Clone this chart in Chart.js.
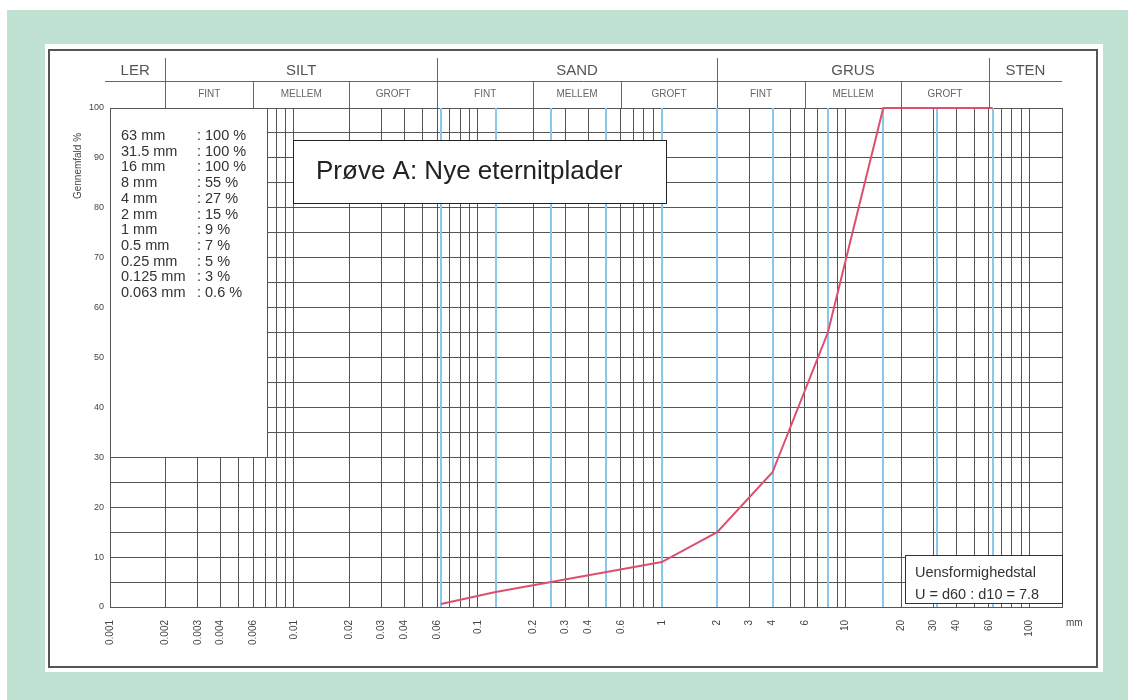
<!DOCTYPE html>
<html>
<head>
<meta charset="utf-8">
<title>Sigteanalyse</title>
<script src="https://cdn.jsdelivr.net/npm/chart.js@4"></script>
<style>
  html, body { margin: 0; padding: 0; background: #fff; }
  #wrap { width: 1128px; height: 700px; }
</style>
</head>
<body>
<div id="wrap"><canvas id="sieveChart" width="1128" height="700"></canvas></div>
<script>
/** sigtestørrelser (mm) og gennemfald (%) */
const sieveMm = [0.063, 0.125, 0.25, 0.5, 1, 2, 4, 8, 16, 31.5, 63];
const passingPct = [0.6, 3, 5, 7, 9, 15, 27, 55, 100, 100, 100];

/** tekst i boksen til venstre */
const boxSizes = ["63 mm", "31.5 mm", "16 mm", "8 mm", "4 mm", "2 mm", "1 mm", "0.5 mm", "0.25 mm", "0.125 mm", "0.063 mm"];
const boxPct = [": 100 %", ": 100 %", ": 100 %", ": 55 %", ": 27 %", ": 15 %", ": 9 %", ": 7 %", ": 5 %", ": 3 %", ": 0.6 %"];

/** akser */
const xTickLabels = [0.001, 0.002, 0.003, 0.004, 0.006, 0.01, 0.02, 0.03, 0.04, 0.06, 0.1, 0.2, 0.3, 0.4, 0.6, 1, 2, 3, 4, 6, 10, 20, 30, 40, 60, 100];
const yTickLabels = [0, 10, 20, 30, 40, 50, 60, 70, 80, 90, 100];
const xMin = 0.001, xMax = 150;

/** fraktioner i hovedet */
const mainNames = ["LER", "SILT", "SAND", "GRUS", "STEN"];
const mainBounds = [0.001, 0.002, 0.06, 2, 60, 150];
const subNames = ["FINT", "MELLEM", "GROFT"];
const subBounds = [[0.002, 0.006, 0.02, 0.06], [0.06, 0.2, 0.6, 2], [2, 6, 20, 60]];

const titleText = "Prøve A: Nye eternitplader";
const uLines = ["Uensformighedstal", "U = d60 : d10 = 7.8"];

// gitterlinjer: 1..9 i hver dekade
const gridMm = [];
[0.001, 0.01, 0.1, 1, 10].forEach(d => {
    for (let m = 1; m <= 9; m++) gridMm.push(parseFloat((m * d).toPrecision(2)));
});
gridMm.push(100, xMax);

const FONT = "Liberation Sans, Arial, sans-serif";

/**
 * baggrund, blå sigtelinjer, bokse og hoved
 */
const paperPlugin = {
    id: 'paper',
    beforeDraw(chart) {
        const ctx = chart.ctx;
        ctx.save();
        ctx.fillStyle = '#fff';
        ctx.fillRect(0, 0, 1128, 700);
        ctx.fillStyle = '#c0e2d2';
        ctx.fillRect(7, 10, 1121, 690);
        ctx.fillStyle = '#fff';
        ctx.fillRect(45, 44, 1058, 628);
        ctx.strokeStyle = '#555';
        ctx.lineWidth = 2;
        ctx.strokeRect(49, 50, 1048, 617);
        ctx.restore();
    },
    beforeDatasetsDraw(chart) {
        const ctx = chart.ctx, xs = chart.scales.x, a = chart.chartArea;
        ctx.save();
        ctx.strokeStyle = '#8cc6ea';
        ctx.lineWidth = 2;
        sieveMm.forEach(v => {
            const px = Math.round(xs.getPixelForValue(v));
            ctx.beginPath();
            ctx.moveTo(px, a.top);
            ctx.lineTo(px, a.bottom);
            ctx.stroke();
        });
        ctx.restore();
    },
    afterDatasetsDraw(chart) {
        const ctx = chart.ctx, xs = chart.scales.x, ys = chart.scales.y, a = chart.chartArea;
        ctx.save();

        // boks til venstre
        const bx = a.left, by = a.top;
        const bw = Math.round(xs.getPixelForValue(0.007)) + 2 - bx;
        const bh = Math.round(ys.getPixelForValue(30)) - by;
        ctx.fillStyle = '#fff';
        ctx.fillRect(bx, by, bw, bh);
        ctx.strokeStyle = '#555';
        ctx.lineWidth = 1;
        ctx.strokeRect(bx + 0.5, by + 0.5, bw, bh);
        ctx.fillStyle = '#333';
        ctx.font = '14.5px ' + FONT;
        ctx.textBaseline = 'middle';
        ctx.textAlign = 'left';
        boxSizes.forEach((s, i) => {
            ctx.fillText(s, bx + 11, by + 28 + i * 15.7);
            ctx.fillText(boxPct[i], bx + 87, by + 28 + i * 15.7);
        });

        // titelboks
        ctx.fillStyle = '#fff';
        ctx.fillRect(293, 140, 373, 63);
        ctx.strokeStyle = '#222';
        ctx.strokeRect(293.5, 140.5, 373, 63);
        ctx.fillStyle = '#222';
        ctx.font = '26px ' + FONT;
        ctx.fillText(titleText, 316, 172);

        // uensformighedstal
        const ux = 905, uy = 555;
        ctx.fillStyle = '#fff';
        ctx.fillRect(ux, uy, a.right - ux, 48);
        ctx.strokeStyle = '#333';
        ctx.strokeRect(ux + 0.5, uy + 0.5, a.right - ux, 48);
        ctx.fillStyle = '#333';
        ctx.font = '14.5px ' + FONT;
        ctx.fillText(uLines[0], ux + 10, uy + 18);
        ctx.fillText(uLines[1], ux + 10, uy + 40);

        // hoved
        const r1 = 58, r2 = 81, r3 = a.top;
        ctx.strokeStyle = '#666';
        ctx.lineWidth = 1;
        ctx.beginPath();
        ctx.moveTo(a.left - 5, r2 + 0.5);
        ctx.lineTo(a.right, r2 + 0.5);
        mainBounds.slice(1, -1).forEach(v => {
            const px = Math.round(xs.getPixelForValue(v)) + 0.5;
            ctx.moveTo(px, r1);
            ctx.lineTo(px, r3);
        });
        subBounds.forEach(b => {
            b.slice(1, -1).forEach(v => {
                const px = Math.round(xs.getPixelForValue(v)) + 0.5;
                ctx.moveTo(px, r2);
                ctx.lineTo(px, r3);
            });
        });
        ctx.stroke();

        ctx.textAlign = 'center';
        ctx.fillStyle = '#555';
        ctx.font = '15px ' + FONT;
        mainNames.forEach((n, i) => {
            let l = xs.getPixelForValue(mainBounds[i]);
            const r = xs.getPixelForValue(mainBounds[i + 1]);
            if (i === 0) l -= 5;
            ctx.fillText(n, (l + r) / 2, (r1 + r2) / 2 + 1);
        });
        ctx.fillStyle = '#666';
        ctx.font = '10px ' + FONT;
        subBounds.forEach(b => {
            for (let i = 0; i < 3; i++) {
                const c = (xs.getPixelForValue(b[i]) + xs.getPixelForValue(b[i + 1])) / 2;
                ctx.fillText(subNames[i], c, (r2 + r3) / 2);
            }
        });

        // akseteksler
        ctx.font = '10px ' + FONT;
        ctx.fillStyle = '#444';
        ctx.textAlign = 'left';
        ctx.fillText('mm', a.right + 4, a.bottom + 16);
        ctx.translate(78, 166);
        ctx.rotate(-Math.PI / 2);
        ctx.textAlign = 'center';
        ctx.font = '10px ' + FONT;
        ctx.fillText('Gennemfald %', 0, 0);
        ctx.restore();
    }
};

var sieveChart = new Chart("sieveChart", {
    type: "line",
    data: {
        datasets: [{
            data: sieveMm.map((v, i) => ({ x: v, y: passingPct[i] })),
            borderColor: "#dc4f6f",
            borderWidth: 2,
            pointRadius: 0,
            tension: 0,
            fill: false,
            clip: 4
        }]
    },
    options: {
        responsive: false,
        animation: false,
        layout: { padding: { left: 0, top: 108, right: 66, bottom: 0 } },
        plugins: { legend: { display: false }, tooltip: { enabled: false } },
        scales: {
            x: {
                type: 'logarithmic',
                min: xMin,
                max: xMax,
                afterBuildTicks: scale => { scale.ticks = gridMm.map(v => ({ value: v })); },
                afterFit: scale => { scale.height = 93; },
                grid: { color: '#555', lineWidth: 1, drawTicks: false },
                border: { color: '#555' },
                ticks: {
                    autoSkip: false,
                    minRotation: 90,
                    maxRotation: 90,
                    padding: 13,
                    color: '#444',
                    font: { size: 10, family: FONT },
                    callback: v => xTickLabels.includes(v) ? String(v) : ''
                }
            },
            y: {
                min: 0,
                max: 100,
                afterFit: scale => { scale.width = 110; },
                grid: { color: '#555', lineWidth: 1, drawTicks: false },
                border: { color: '#555' },
                ticks: {
                    stepSize: 5,
                    padding: 6,
                    color: '#444',
                    font: { size: 9, family: FONT },
                    callback: v => yTickLabels.includes(v) ? String(v) : ''
                }
            }
        }
    },
    plugins: [paperPlugin]
});
</script>
</body>
</html>
